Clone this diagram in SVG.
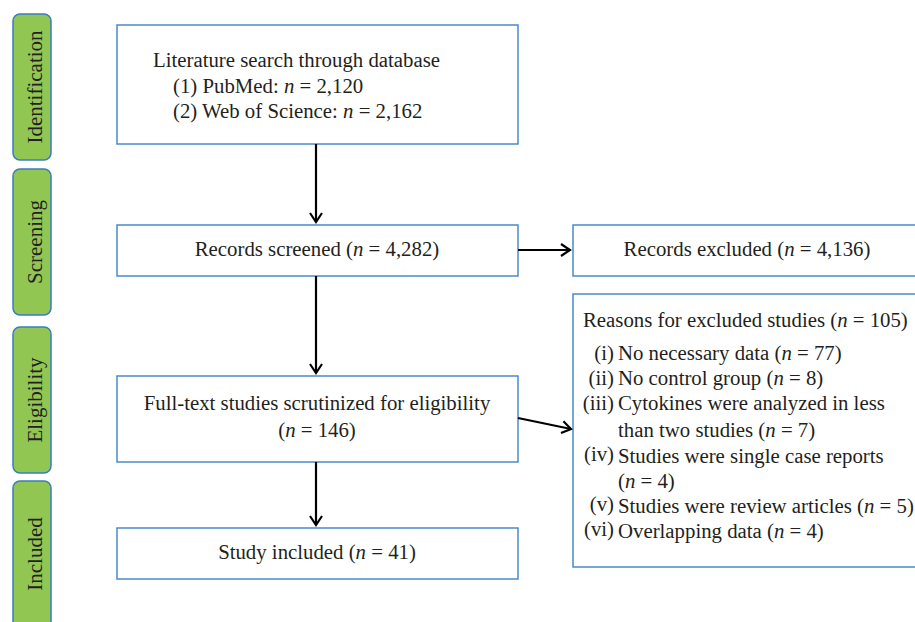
<svg xmlns="http://www.w3.org/2000/svg" width="915" height="622" viewBox="0 0 915 622">
<defs>
<marker id="arr" markerWidth="12" markerHeight="14" refX="10" refY="7" orient="auto" markerUnits="userSpaceOnUse">
<path d="M1,1 L10,7 L1,13" fill="none" stroke="#000" stroke-width="2.2"/>
</marker>
<style>
.stage{fill:#92c653;stroke:#3a7dc0;stroke-width:1.5}
.box{fill:#fff;stroke:#4a8bc9;stroke-width:1.5}
text{font-family:"Liberation Serif","Times New Roman",serif;font-size:20.8px;fill:#231f20}
.st{font-size:21px}
.c{text-anchor:middle}
.r{text-anchor:end}
.conn{stroke:#000;stroke-width:2.2;fill:none}
</style>
</defs>
<g id="stage-identification"><rect class="stage" x="13" y="14" width="38" height="146" rx="7"/><text class="st c" transform="translate(42,87) rotate(-90)">Identification</text></g>
<g id="stage-screening"><rect class="stage" x="13" y="169" width="38" height="146" rx="7"/><text class="st c" transform="translate(42,242) rotate(-90)">Screening</text></g>
<g id="stage-eligibility"><rect class="stage" x="13" y="327" width="38" height="146" rx="7"/><text class="st c" transform="translate(42,400) rotate(-90)">Eligibility</text></g>
<g id="stage-included"><rect class="stage" x="13" y="481" width="38" height="160" rx="7"/><text class="st c" transform="translate(42,554) rotate(-90)">Included</text></g>

<g id="node-search"><rect class="box" x="117" y="25" width="401" height="119"/>
<text x="153" y="67">Literature search through database</text>
<text x="173" y="93">(1) PubMed: <tspan font-style="italic">n</tspan> = 2,120</text>
<text x="173" y="118">(2) Web of Science: <tspan font-style="italic">n</tspan> = 2,162</text></g>
<g id="node-screened"><rect class="box" x="117" y="225" width="401" height="51"/>
<text class="c" x="317" y="256">Records screened (<tspan font-style="italic">n</tspan> = 4,282)</text></g>
<g id="node-excluded"><rect class="box" x="573" y="225" width="350" height="51"/>
<text class="c" x="747" y="256">Records excluded (<tspan font-style="italic">n</tspan> = 4,136)</text></g>
<g id="node-fulltext"><rect class="box" x="117" y="376" width="401" height="86"/>
<text class="c" x="317" y="410">Full-text studies scrutinized for eligibility</text>
<text class="c" x="317" y="437">(<tspan font-style="italic">n</tspan> = 146)</text></g>
<g id="node-included"><rect class="box" x="117" y="528" width="401" height="51"/>
<text class="c" x="317" y="559">Study included (<tspan font-style="italic">n</tspan> = 41)</text></g>
<g id="node-reasons"><rect class="box" x="573" y="294" width="350" height="273"/>
<text x="583" y="327">Reasons for excluded studies (<tspan font-style="italic">n</tspan> = 105)</text>
<text class="r" x="614" y="360">(i)</text><text x="618" y="360">No necessary data (<tspan font-style="italic">n</tspan> = 77)</text>
<text class="r" x="614" y="385">(ii)</text><text x="618" y="385">No control group (<tspan font-style="italic">n</tspan> = 8)</text>
<text class="r" x="614" y="410">(iii)</text><text x="618" y="410">Cytokines were analyzed in less</text>
<text x="618" y="437">than two studies (<tspan font-style="italic">n</tspan> = 7)</text>
<text class="r" x="614" y="461">(iv)</text><text x="618" y="463">Studies were single case reports</text>
<text x="618" y="488">(<tspan font-style="italic">n</tspan> = 4)</text>
<text class="r" x="614" y="511">(v)</text><text x="618" y="513">Studies were review articles (<tspan font-style="italic">n</tspan> = 5)</text>
<text class="r" x="614" y="536">(vi)</text><text x="618" y="538">Overlapping data (<tspan font-style="italic">n</tspan> = 4)</text></g>

<g id="connectors">
<line class="conn" x1="316" y1="144" x2="316" y2="222" marker-end="url(#arr)"/>
<line class="conn" x1="316" y1="276" x2="316" y2="373" marker-end="url(#arr)"/>
<line class="conn" x1="316" y1="462" x2="316" y2="525" marker-end="url(#arr)"/>
<line class="conn" x1="518" y1="250" x2="570" y2="250" marker-end="url(#arr)"/>
<line class="conn" x1="518" y1="418" x2="571" y2="429" marker-end="url(#arr)"/>
</g>
</svg>
